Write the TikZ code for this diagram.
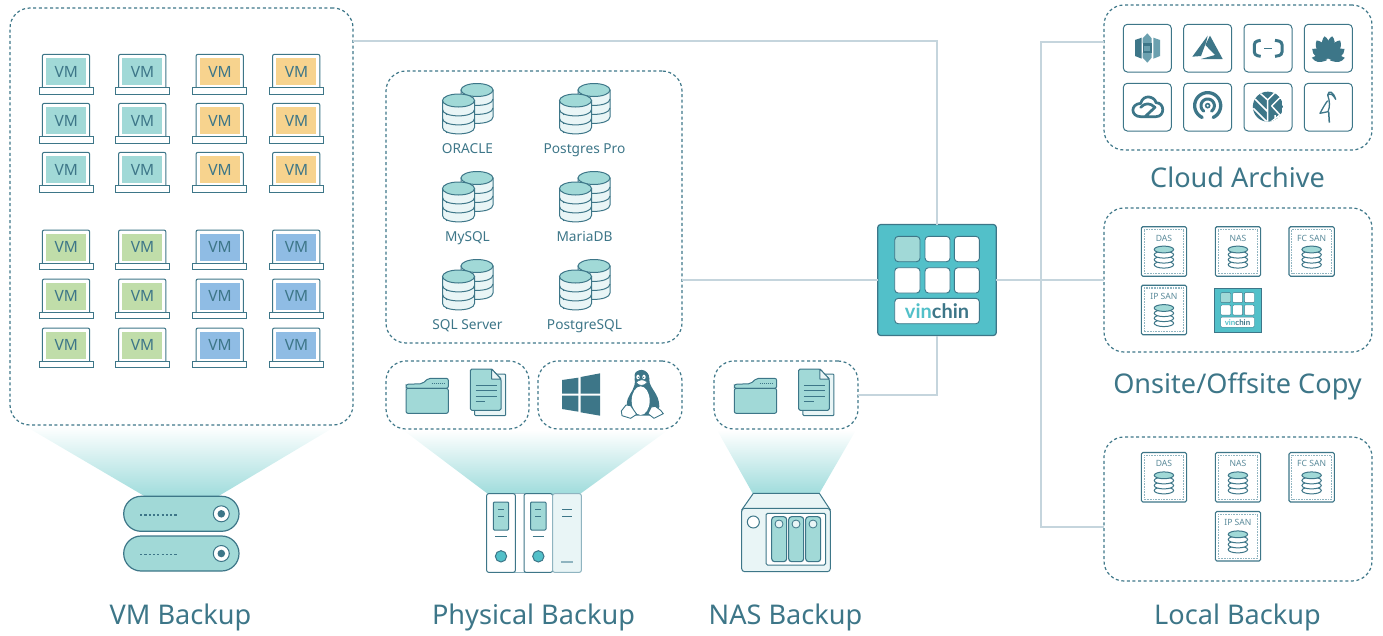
\documentclass[tikz,border=0pt]{standalone}
\usepackage{fontspec}
\setmainfont{Noto Sans}
\newfontfamily\logofont{Lato}
\definecolor{inkc}{HTML}{3D7688}
\definecolor{softc}{HTML}{8FB4C0}
\definecolor{tealc}{HTML}{A1D9D7}
\definecolor{orangec}{HTML}{F7D38E}
\definecolor{greenc}{HTML}{C0DDA9}
\definecolor{bluec}{HTML}{8FBCE4}
\definecolor{vinc}{HTML}{52C0C9}
\definecolor{palec}{HTML}{E9F5F6}
\definecolor{linec}{HTML}{C5D5DD}
\definecolor{conec}{HTML}{9FDCDC}
\definecolor{midc}{HTML}{6BA0AF}
\tikzset{
  panelbox/.style={draw=inkc,line width=1.2pt,dash pattern=on 3pt off 2.6pt,rounded corners=20pt,inner sep=0pt,outer sep=0pt},
  conn/.style={draw=linec,line width=1.5pt},
  ink/.style={draw=inkc,line width=1pt},
  zoomat/.style 2 args={shift={(#1,#2)},scale=1/3},
  biglabel/.style={text=inkc,font=\fontsize{27.1}{30}\selectfont,inner sep=0pt,anchor=base},
  dblabel/.style={text=inkc,font=\fontsize{13.7}{16}\selectfont,inner sep=0pt,anchor=base},
  vmlabel/.style={text=inkc,font=\fontsize{15.5}{18}\selectfont,inner sep=0pt},
  storelabel/.style={text=inkc!85,font=\fontsize{8.6}{10}\selectfont,inner sep=0pt},
  iconbox/.style={draw=inkc,line width=1pt,rounded corners=4pt,fill=white},
}
% laptop: left edge of body, top edge
\newcommand\vmlaptop[4]{%
  \begin{scope}[shift={(#1,#2)}]
    \draw[ink,fill=white,rounded corners=2pt] (0,33) -- (0,0) -- (47.4,0) -- (47.4,33);
    \fill[#3] (3.7,3.7) rectangle (43.7,30.7);
    \draw[ink,fill=white] (-3.2,33) rectangle (50.8,39.7);
    \node[vmlabel] (#4) at (24,17.2) {VM};
  \end{scope}}
% database pair
\newcommand\cyl[2]{%
  \begin{scope}[shift={(#1,#2)}]
    \draw[ink,fill=palec] (-16,0) -- (-16,27) .. controls (-16,35.5) and (16,35.5) .. (16,27) -- (16,0) -- cycle;
    \draw[ink] (-16,9) .. controls (-16,17.5) and (16,17.5) .. (16,9);
    \draw[ink] (-16,18) .. controls (-16,26.5) and (16,26.5) .. (16,18);
    \draw[ink,fill=tealc] (0,0) ellipse [x radius=16,y radius=6.5];
  \end{scope}}
\newcommand\dbpair[4]{%
  \cyl{#1+9.5}{#2-10.5}
  \cyl{#1-9}{#2}
  \fill[inkc] (#1-21,#2+14) circle (.6) (#1-21,#2+23) circle (.6) (#1-21,#2+32) circle (.6);
  \node[dblabel] (#4) at (#1,#2+52.5) {#3};}
% folder + document
\newcommand\filepair[1]{%
  \begin{scope}[zoomat={#1}{355}]
    \draw[ink,fill=tealc,rounded corners=2pt] (78,100) -- (78,88) -- (127,86) -- (145,70) -- (205,70) -- (205,100) -- cycle;
    \draw[ink,fill=tealc,rounded corners=2pt] (78,100) -- (78,175) -- (205,175) -- (205,100) -- cycle;
    \draw[inkc,line width=.8pt,dash pattern=on 1pt off 1pt] (155,85) -- (197,85);
    \draw[ink,fill=palec,rounded corners=1pt] (284,160) -- (284,182) -- (377,182) -- (377,57) -- (350,57);
    \draw[ink,fill=tealc,rounded corners=1.5pt] (335,42) -- (271,42) -- (271,166) -- (363,166) -- (363,72) -- cycle;
    \draw[ink,fill=palec,line join=round] (335,42) -- (335,72) -- (363,72) -- cycle;
    \foreach \yy in {92,107,123} \draw[inkc,line width=.8pt] (287,\yy) -- (350,\yy);
    \draw[inkc,line width=.8pt] (287,139) -- (316,139);
  \end{scope}}
% storage tile
\newcommand\storetile[4]{%
  \begin{scope}[shift={(#1,#2)}]
    \draw[draw=inkc,line width=1.1pt,fill=white,rounded corners=1.5pt] (0,0) rectangle (45.3,49.5);
    \draw[softc,line width=1.1pt,dash pattern=on .8pt off .8pt] (2.8,2.8) rectangle (42.5,46.7);
    \node[storelabel] (#4) at (22.6,11.3) {#3};
    \foreach \yy in {38,33,28} \draw[ink,fill=white] (22.6,\yy) ellipse [x radius=9.7,y radius=3.4];
    \draw[ink,fill=tealc] (22.6,22.8) ellipse [x radius=9.7,y radius=3.4];
  \end{scope}}
% inside of the Vinchin box: origin = top left corner, #3 scale of a 3x drawing
\newcommand\vinparts[6]{%
  \begin{scope}[shift={(#1,#2)},scale=#3,transform shape]
    \foreach \xa/\xb in {142/217,230/305} \foreach \ya/\yb in {35/111,129/205}
      \draw[draw=inkc,line width=#5,fill=white,rounded corners=#4] (\xa,\ya) rectangle (\xb,\yb);
    \draw[draw=inkc,line width=#5,fill=white,rounded corners=#4] (51,129) rectangle (127,205);
    \draw[draw=inkc,line width=#5,fill=tealc,rounded corners=#4] (51,35) rectangle (127,111);
    \draw[draw=inkc,line width=#5,fill=white,rounded corners=#4] (51,221) rectangle (305,297);
    \node[inner sep=0pt,font=\logofont\bfseries\fontsize{60}{62}\selectfont] (#6) at (178,259) {\textcolor{vinc}{vin}\textcolor{inkc}{chin}};
  \end{scope}}
\begin{document}
\begin{tikzpicture}[x=1pt,y=-1pt]
\useasboundingbox (0,0) rectangle (1383,635);
% cones
\shade[top color=white,bottom color=conec] (25,426) -- (336,426) -- (217,497) -- (146,497) -- cycle;
\shade[top color=white,bottom color=conec] (403,430) -- (668,430) -- (580,494) -- (488,494) -- cycle;
\shade[top color=white,bottom color=conec] (717,430) -- (856,430) -- (819,494) -- (753,494) -- cycle;
% panels
\node[panelbox,minimum width=343pt,minimum height=417pt] (vmp) at (181.5,216.5) {};
\node[panelbox,minimum width=296pt,minimum height=272pt] (dbp) at (534,207) {};
\node[panelbox,minimum width=143pt,minimum height=68pt] (filesp) at (457.5,395) {};
\node[panelbox,minimum width=144pt,minimum height=68pt] (osp) at (610,395) {};
\node[panelbox,minimum width=144pt,minimum height=68pt] (nasp) at (786,395) {};
\node[panelbox,minimum width=268pt,minimum height=145pt] (cloudp) at (1238,77.5) {};
\node[panelbox,minimum width=268pt,minimum height=144pt] (copyp) at (1238,280) {};
\node[panelbox,minimum width=268pt,minimum height=144pt] (localp) at (1238,509) {};
% Vinchin
\node[draw=inkc,line width=1.2pt,fill=vinc,rounded corners=3pt,minimum width=118.6pt,minimum height=111pt,inner sep=0pt,outer sep=0pt] (vinchin) at (937,280) {};
\vinparts{877.7}{224.7}{1/3}{3.5pt}{.9pt}{vinlogo}
% connectors
\coordinate (vmport) at (353,41);
\coordinate (cloudport) at (1104,42);
\coordinate (localport) at (1104,527);
\coordinate (bus) at (1041,280);
\draw[conn] (vmport) -| (vinchin.north);
\draw[conn] (dbp.east |- vinchin.west) -- (vinchin.west);
\draw[conn] (nasp.east) -| (vinchin.south);
\draw[conn] (vinchin.east) -- (copyp.west);
\draw[conn] (cloudport) -| (bus);
\draw[conn] (localport) -| (bus);
% VM laptops
\foreach \i/\xp in {1/42.3,2/118.5}{\foreach \j/\yp in {1/54.3,2/103.3,3/152.3}{\vmlaptop{\xp}{\yp}{tealc}{vma\i\j}}}
\foreach \i/\xp in {3/196,4/272.5}{\foreach \j/\yp in {1/54.3,2/103.3,3/152.3}{\vmlaptop{\xp}{\yp}{orangec}{vma\i\j}}}
\foreach \i/\xp in {1/42.3,2/118.5}{\foreach \j/\yp in {1/230,2/279,3/328}{\vmlaptop{\xp}{\yp}{greenc}{vmb\i\j}}}
\foreach \i/\xp in {3/196,4/272.5}{\foreach \j/\yp in {1/230,2/279,3/328}{\vmlaptop{\xp}{\yp}{bluec}{vmb\i\j}}}
% databases
\dbpair{467.5}{100.5}{ORACLE}{dbora}
\dbpair{584.5}{100.5}{Postgres Pro}{dbpro}
\dbpair{467.5}{188.5}{MySQL}{dbmy}
\dbpair{584.5}{188.5}{MariaDB}{dbma}
\dbpair{467.5}{276.5}{SQL Server}{dbsql}
\dbpair{584.5}{276.5}{PostgreSQL}{dbpg}
% files
\filepair{380}
\filepair{708.3}
% windows + penguin
\begin{scope}[zoomat={380}{355}]
  \fill[inkc] (546,75) -- (595,68) -- (595,116) -- (546,116) -- cycle;
  \fill[inkc] (602,66) -- (660,55) -- (660,116) -- (602,116) -- cycle;
  \fill[inkc] (546,122) -- (595,122) -- (595,170) -- (546,162) -- cycle;
  \fill[inkc] (602,122) -- (660,122) -- (660,182) -- (602,172) -- cycle;
  \fill[inkc] (764,72) .. controls (762,35) and (808,35) .. (808,75) .. controls (808,100) and (838,115) .. (838,155) .. controls (838,168) and (820,172) .. (810,182) -- (758,182) .. controls (745,170) and (736,155) .. (743,132) .. controls (750,112) and (768,100) .. (764,72) -- cycle;
  \fill[white] (782,137) ellipse [x radius=27,y radius=43];
  \fill[inkc] (764,60) .. controls (764,40) and (808,40) .. (808,70) -- (804,92) -- (768,92) -- cycle;
  \fill[white] (774,66) ellipse [x radius=5,y radius=7] (792,66) ellipse [x radius=5,y radius=7];
  \fill[inkc] (775,67) circle (2) (791,67) circle (2);
  \draw[inkc,line width=.5pt,fill=white] (768,82) .. controls (780,72) and (792,72) .. (802,82) .. controls (792,94) and (776,94) .. (768,82) -- cycle;
  \draw[ink,line width=.9pt,fill=white,line join=round] (738,150) -- (752,152) -- (770,178) -- (752,190) -- (726,182) -- (724,168) -- cycle;
  \draw[ink,line width=.9pt,fill=white,line join=round] (826,154) -- (814,156) -- (804,176) -- (822,190) -- (850,176) -- (842,166) -- cycle;
\end{scope}
% VM servers
\foreach \yy in {496.3,536} {
  \draw[draw=inkc,line width=1.2pt,fill=tealc,rounded corners=17.4pt] (123.7,\yy) rectangle (239,\yy+35);
  \draw[inkc,line width=1.6pt,dash pattern=on 2.2pt off 2.1pt] (140,\yy+18.5) -- (178,\yy+18.5);
  \draw[ink,fill=white] (221.3,\yy+17.5) circle (8);
  \fill[inkc] (221.3,\yy+17.5) circle (3.8);
}
% physical servers
\begin{scope}[zoomat={380}{355}]
  \draw[draw=softc,line width=1pt,fill=white] (400,416) rectangle (440,652);
  \foreach \dx in {0,112}{
    \draw[ink,fill=white,rounded corners=2pt] (320+\dx,416) rectangle (406+\dx,652);
    \draw[ink,fill=tealc,rounded corners=1pt] (340+\dx,441) rectangle (386+\dx,525);
    \draw[inkc,line width=.8pt] (354+\dx,463) -- (372+\dx,463) (354+\dx,483) -- (372+\dx,483) (346+\dx,545) -- (380+\dx,545);
    \draw[ink,fill=vinc] (363+\dx,604) circle (17);
  }
  \draw[draw=softc,line width=1pt,fill=palec,rounded corners=2pt] (518,416) rectangle (604,652);
  \draw[inkc,line width=.8pt] (547,463) -- (575,463) (547,483) -- (575,483);
  \draw[softc,line width=1.2pt] (544,621) -- (578,621);
\end{scope}
% NAS device
\begin{scope}[zoomat={700}{210}]
  \draw[ink,fill=palec,line join=round] (160,850) -- (358,850) -- (391,900) -- (125,900) -- cycle;
  \draw[ink,fill=palec,rounded corners=3pt] (125,895) rectangle (391,1085);
  \draw[ink,fill=white] (160,936) circle (18);
  \draw[ink,fill=white,rounded corners=1.5pt] (198,910) rectangle (377,1065);
  \foreach \xa in {215,266,317}{
    \draw[draw=inkc,line width=1.1pt,fill=tealc,rounded corners=3pt] (\xa,920) rectangle (\xa+45,1055);
    \draw[ink,line width=.8pt,fill=palec] (\xa+22,942) circle (12);
  }
\end{scope}
% cloud icons
\foreach \xx in {70,251,432,613}{\foreach \yy in {73,250}{
  \begin{scope}[zoomat={1100}{0}]\draw[iconbox] (\xx,\yy) rectangle (\xx+144,\yy+143);\end{scope}}}
\begin{scope}[zoomat={1100}{0}]
  % S3
  \fill[inkc] (105,120) -- (125,113) -- (125,176) -- (105,168) -- cycle;
  \fill[midc] (160,113) -- (180,120) -- (180,168) -- (160,176) -- cycle;
  \fill[midc] (128,115) -- (142,100) -- (155,115) -- (155,130) -- (128,130) -- cycle;
  \fill[midc] (128,158) -- (155,158) -- (155,173) -- (142,188) -- (128,173) -- cycle;
  \fill[inkc] (128,130) rectangle (155,158);
  \fill[midc] (133,137) rectangle (150,152);
  % Azure
  \fill[inkc] (323,107) -- (277,170) -- (303,168) -- (319,125) -- cycle;
  \fill[inkc] (330,107) -- (368,177) -- (303,177) -- (345,165) -- (316,135) -- cycle;
  % Aliyun
  \draw[inkc,line width=3pt,rounded corners=3pt] (482,121) -- (463,125) -- (463,165) -- (482,169);
  \draw[inkc,line width=3pt,rounded corners=3pt] (525,121) -- (546,125) -- (546,165) -- (525,169);
  \draw[inkc,line width=1pt] (492,144) -- (516,144);
  % Huawei
  \foreach \ang/\len/\wid in {-80/50/12,80/50/12,-54/60/16,54/60/16,-30/70/18,30/70/18,-9/74/16,9/74/16}{
    \begin{scope}[shift={(685,182)},rotate=\ang]
      \fill[inkc] (0,-5) .. controls (-\wid,-26) and (-\wid,-\len+12) .. (0,-\len) .. controls (\wid,-\len+12) and (\wid,-26) .. (0,-5) -- cycle;
    \end{scope}}
  % Tencent cloud
  \draw[inkc,line width=2.7pt,line join=round,line cap=round] (168,350) -- (122,350) .. controls (92,350) and (90,312) .. (122,310) .. controls (130,280) and (165,290) .. (168,308) .. controls (195,308) and (195,350) .. (168,350) -- (135,350) -- (165,322) .. controls (150,308) and (135,308) .. (122,322);
  % Ceph
  \draw[inkc,line width=3.3pt,line cap=round] plot[domain=115:425,samples=50] ({323+39*cos(\x)},{317+39*sin(\x)});
  \draw[inkc,line width=3pt,line cap=round] plot[domain=125:415,samples=40] ({323+20*cos(\x)},{317+20*sin(\x)});
  \draw[inkc,line width=1.6pt,fill=white] (323,317) circle (6);
  % Wasabi
  \begin{scope}
    \clip (503.5,320) circle (45);
    \fill[inkc] (503.5,320) circle (45);
    \draw[white,line width=1.5pt] (460,325) -- (503,368) -- (503,300) -- (475,275) (503,335) -- (465,297) (503,300) -- (535,268) (515,318) -- (550,283) (515,318) -- (540,345) -- (510,368) (525,345) -- (525,368);
  \end{scope}
  % stork
  \draw[inkc,line width=1.3pt,line join=round] (683,285) .. controls (686,268) and (700,275) .. (707,298) .. controls (700,285) and (692,278) .. (683,285) .. controls (690,305) and (690,320) .. (684,335) -- (660,340) .. controls (668,325) and (675,312) .. (683,302);
  \draw[inkc,line width=1.5pt] (686,335) -- (688,368);
\end{scope}
% storage tiles
\storetile{1141.3}{226.7}{DAS}{cdas}
\storetile{1215.3}{226.7}{NAS}{cnas}
\storetile{1289}{226.7}{FC SAN}{cfc}
\storetile{1141.3}{285.2}{IP SAN}{cip}
\node[draw=inkc,line width=.8pt,fill=vinc,minimum width=47pt,minimum height=44pt,inner sep=0pt,outer sep=0pt] (minivin) at (1237.5,310) {};
\vinparts{1214}{288}{.132}{1pt}{.4pt}{minilogo}
\storetile{1141.3}{452.5}{DAS}{ldas}
\storetile{1215.3}{452.5}{NAS}{lnas}
\storetile{1289}{452.5}{FC SAN}{lfc}
\storetile{1215.3}{511.5}{IP SAN}{lip}
% titles
\node[biglabel] (tvm) at (180.5,624.5) {VM Backup};
\node[biglabel] (tphys) at (533.5,624.5) {Physical Backup};
\node[biglabel] (tnas) at (785.5,624.5) {NAS Backup};
\node[biglabel] (tcloud) at (1237.5,187) {Cloud Archive};
\node[biglabel] (tcopy) at (1237.5,393.5) {Onsite/Offsite Copy};
\node[biglabel] (tlocal) at (1237.5,624.5) {Local Backup};
\end{tikzpicture}
\end{document}
